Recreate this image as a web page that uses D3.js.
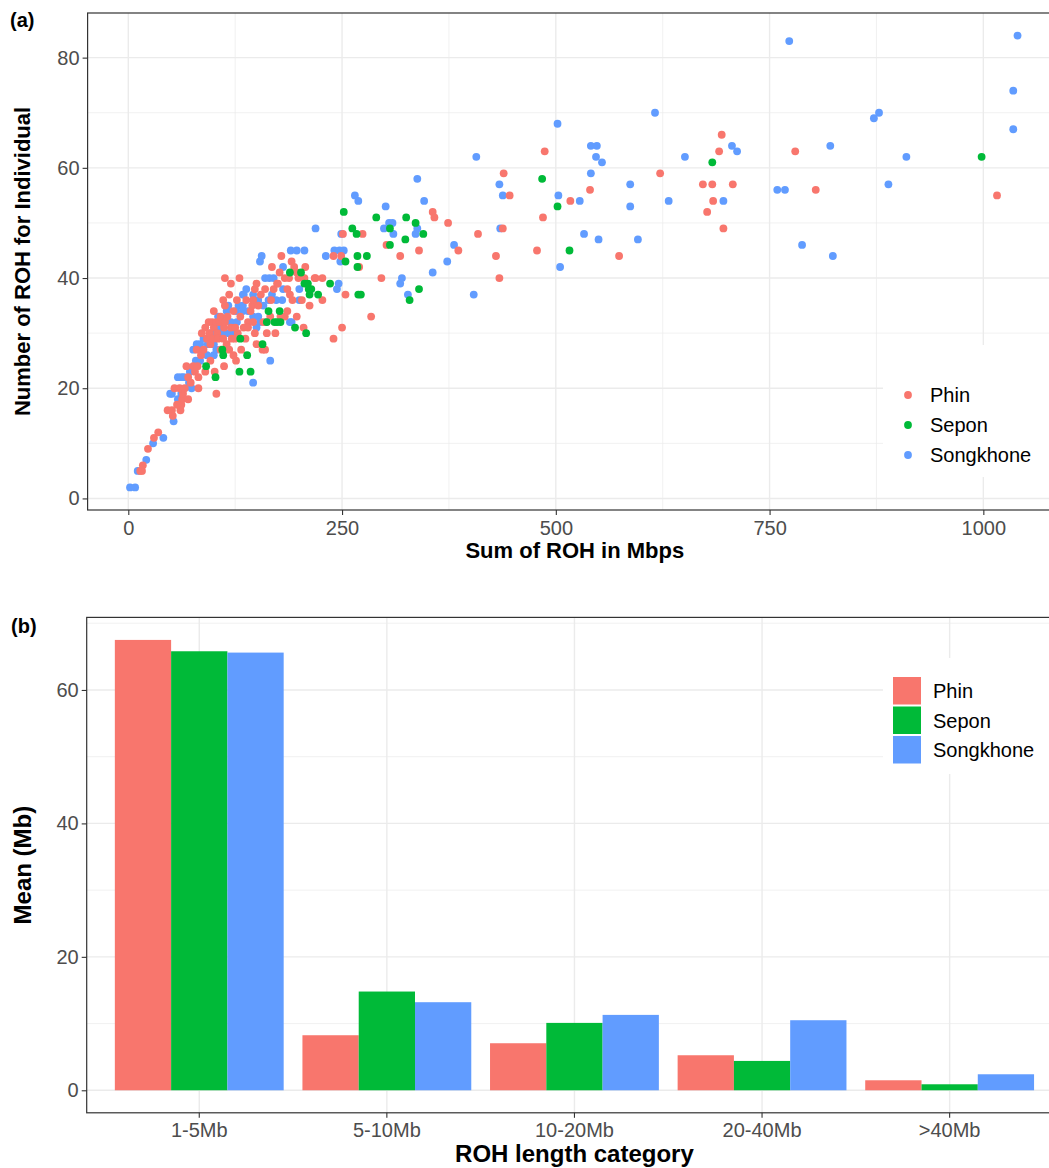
<!DOCTYPE html>
<html>
<head>
<meta charset="utf-8">
<script src="https://cdn.jsdelivr.net/npm/d3@7"></script>
<style>
  body { margin: 0; background: #fff; }
  svg { display: block; font-family: "Liberation Sans", Arial, Helvetica, sans-serif; }
</style>
</head>
<body>
<svg id="chart" width="1049" height="1168"></svg>
<script>

const groups = ['Phin', 'Sepon', 'Songkhone'];
const colors = ['#F8766D', '#00BA38', '#619CFF'];

// panel (a): [sum of ROH (Mbps), number of ROH]
const phinPoints = [
  [14,5],[16,5],[17,6],[23,9],[30,11],[35,12],[46,16],[51,16],[52,15],[60,17],[61,16],[62,17],[63,18],[64,19],
  [54,20],[60,20],[57,17],[66,20],[70,18],[68,24],[70,22],[73,21],[78,23],[76,24],[81,24],[82,22],[82,20],
  [80,27],[85,26],[88,27],[86,30],[90,31],[90,23],[92,29],[94,32],[95,30],[96,28],[96,25],[98,32],[99,29],
  [100,31],[100,34],[101,23],[103,32],[103,19],[104,30],[105,29],[107,32],[108,33],[108,27],[111,29],[111,36],
  [112,24],[112,31],[113,40],[113,35],[113,32],[115,28],[116,33],[118,37],[118,27],[120,39],[120,31],[121,29],
  [123,34],[123,26],[125,29],[125,31],[126,25],[127,36],[128,30],[130,40],[131,33],[132,27],[135,31],[137,29],
  [138,36],[140,32],[140,31],[143,34],[145,35],[146,32],[146,36],[148,30],[148,38],[150,39],[150,28],[152,35],
  [155,37],[157,27],[158,32],[160,38],[160,27],[162,30],[166,33],[167,36],[168,42],[170,38],[172,30],[174,39],
  [175,39],[177,41],[178,33],[179,44],[183,40],[183,33],[186,38],[186,34],[188,40],[189,37],[191,43],[192,36],
  [194,42],[197,41],[197,33],[199,40],[203,36],[205,31],[206,40],[207,42],[212,35],[218,40],[219,40],[227,40],
  [227,36],[240,44],[240,29],[249,44],[250,31],[251,48],[254,37],[270,42],[274,48],[284,33],[296,40],[302,46],
  [318,44],[340,45],[356,52],[358,51],[374,50],[386,45],[409,48],[430,44],[434,40],[438,49],[439,59],[446,55],
  [478,45],[485,51],[487,63],[517,54],[540,56],[574,44],[622,59],[672,57],[677,52],[683,57],[684,54],[691,63],
  [694,66],[696,49],[707,57],[780,63],[804,56],[1016,55]
];
const seponPoints = [
  [91,24],[102,22],[110,27],[111,26],[130,23],[131,29],[139,26],[143,23],[157,28],[162,32],[164,34],[171,32],
  [174,32],[177,34],[178,32],[189,41],[195,31],[202,41],[206,39],[208,30],[210,39],[211,38],[212,37],[214,38],
  [222,37],[236,39],[252,52],[254,43],[262,49],[267,48],[268,44],[268,42],[269,37],[272,37],[279,44],[290,51],
  [306,49],[306,46],[324,47],[325,51],[336,50],[345,48],[329,36],[340,38],[484,58],[502,53],[516,45],[683,61],
  [998,62]
];
const songkhonePoints = [
  [2,2],[8,2],[11,5],[21,7],[29,10],[41,11],[49,19],[51,19],[53,14],[58,18],[58,22],[62,22],[62,19],[65,22],
  [71,21],[72,23],[74,20],[76,27],[79,25],[80,28],[84,25],[84,28],[86,27],[88,29],[92,26],[93,28],[97,30],
  [100,28],[100,26],[103,27],[105,33],[107,31],[111,30],[115,34],[117,30],[117,35],[120,32],[123,30],[126,34],
  [127,32],[129,35],[134,34],[134,35],[134,37],[135,37],[138,38],[140,34],[146,33],[146,37],[146,21],[150,31],
  [152,33],[152,36],[154,32],[154,43],[156,44],[158,35],[160,40],[161,32],[164,36],[165,40],[166,25],[168,37],
  [170,40],[173,36],[180,36],[181,42],[181,38],[189,32],[190,45],[191,32],[197,45],[200,38],[200,36],[206,45],
  [219,49],[231,44],[241,45],[244,38],[246,39],[247,45],[248,43],[249,48],[252,45],[265,55],[269,54],[299,49],
  [301,53],[305,50],[309,50],[310,48],[318,39],[320,40],[327,37],[336,48],[338,49],[338,58],[346,54],[356,41],
  [373,43],[381,46],[404,37],[407,62],[434,57],[435,49],[438,55],[502,68],[503,55],[505,42],[528,54],[533,48],
  [541,59],[541,64],[547,62],[548,64],[550,47],[554,61],[587,57],[587,53],[596,47],[616,70],[632,54],[651,62],
  [696,54],[706,64],[712,63],[759,56],[768,56],[773,83],[788,46],[821,64],[824,44],[872,69],[878,70],[889,57],
  [910,62],[1035,74],[1035,67],[1040,84]
];

// panel (b): mean ROH length per category
const categories = ['1-5Mb', '5-10Mb', '10-20Mb', '20-40Mb', '>40Mb'];
const phinMeans = [67.5, 8.25, 7.05, 5.25, 1.5];
const seponMeans = [65.8, 14.8, 10.1, 4.4, 0.9];
const songkhoneMeans = [65.6, 13.2, 11.3, 10.5, 2.4];

const xTicksA = [0, 250, 500, 750, 1000];
const yTicksA = [0, 20, 40, 60, 80];
const yTicksB = [0, 20, 40, 60];

const svg = d3.select('#chart');
const grey = '#4D4D4D';

function styleAxis(g, size) {
  g.select('.domain').remove();
  g.selectAll('.tick line').attr('stroke', '#333').attr('stroke-width', 1.1);
  g.selectAll('.tick text').attr('fill', grey).style('font-size', size + 'px');
}

function hLines(g, vals, scale, x0, x1, w) {
  g.selectAll(null).data(vals).enter().append('line')
    .attr('x1', x0).attr('x2', x1)
    .attr('y1', d => scale(d)).attr('y2', d => scale(d))
    .attr('stroke', '#EBEBEB').attr('stroke-width', w);
}

function vLines(g, vals, pos, y0, y1, w) {
  g.selectAll(null).data(vals).enter().append('line')
    .attr('y1', y0).attr('y2', y1)
    .attr('x1', pos).attr('x2', pos)
    .attr('stroke', '#EBEBEB').attr('stroke-width', w);
}

// ---------- panel (a) ----------
const a = { left: 87.6, right: 1062, top: 13, bottom: 510 };
let xA = d3.scaleLinear().domain([-47.6, 1092]).range([a.left, a.right]);
let yA = d3.scaleLinear().domain([-2.1, 88.1]).range([a.bottom, a.top]);

let gA = svg.append('g');
hLines(gA, [10, 30, 50, 70], yA, a.left, a.right, 0.7);
vLines(gA, [125, 375, 625, 875], xA, a.top, a.bottom, 0.7);
hLines(gA, yTicksA, yA, a.left, a.right, 1.4);
vLines(gA, xTicksA, xA, a.top, a.bottom, 1.4);

let pointData = [];
[songkhonePoints, phinPoints, seponPoints].forEach((arr, i) => {
  let gi = [2, 0, 1][i];
  arr.forEach(p => pointData.push({ x: p[0], y: p[1], g: gi }));
});

gA.selectAll('.pt').data(pointData).enter().append('circle')
  .attr('class', 'pt')
  .attr('cx', d => xA(d.x))
  .attr('cy', d => yA(d.y))
  .attr('r', 3.9)
  .attr('fill', d => colors[d.g]);

gA.append('rect')
  .attr('x', a.left).attr('y', a.top)
  .attr('width', a.right - a.left).attr('height', a.bottom - a.top)
  .attr('fill', 'none').attr('stroke', '#333').attr('stroke-width', 1.2);

let axLA = gA.append('g').attr('transform', `translate(${a.left},0)`)
  .call(d3.axisLeft(yA).tickValues(yTicksA).tickSize(5).tickPadding(3));
styleAxis(axLA, 20);
let axBA = gA.append('g').attr('transform', `translate(0,${a.bottom})`)
  .call(d3.axisBottom(xA).tickValues(xTicksA).tickFormat(d3.format('d')).tickSize(5).tickPadding(6));
styleAxis(axBA, 20);

gA.append('text')
  .attr('x', (a.left + a.right) / 2).attr('y', 558)
  .attr('text-anchor', 'middle')
  .style('font-size', '22px').style('font-weight', 'bold')
  .text('Sum of ROH in Mbps');
gA.append('text')
  .attr('transform', `translate(22,${(a.top + a.bottom) / 2}) rotate(-90)`)
  .attr('text-anchor', 'middle').attr('dy', '0.35em')
  .style('font-size', '22px').style('font-weight', 'bold')
  .text('Number of ROH for Individual');
gA.append('text')
  .attr('x', 10).attr('y', 27)
  .style('font-size', '20px').style('font-weight', 'bold')
  .text('(a)');

// legend (a)
let legA = gA.append('g');
legA.append('rect').attr('x', 883).attr('y', 345).attr('width', 170).attr('height', 132).attr('fill', '#fff');
groups.forEach((name, i) => {
  let y = 395 + i * 30;
  legA.append('circle').attr('cx', 908).attr('cy', y).attr('r', 3.9).attr('fill', colors[i]);
  legA.append('text').attr('x', 930).attr('y', y).attr('dy', '0.35em')
    .style('font-size', '20px').text(name);
});

// ---------- panel (b) ----------
const b = { left: 86.7, right: 1062.2, top: 617.4, bottom: 1112.8 };
let xB = d3.scaleBand().domain(categories).range([b.left, b.right]).paddingInner(0.1).paddingOuter(0.15);
let xSub = d3.scaleBand().domain(groups).range([0, xB.bandwidth()]);
let yB = d3.scaleLinear().domain([-3.375, 70.875]).range([b.bottom, b.top]);

let gB = svg.append('g');
hLines(gB, [10, 30, 50, 70], yB, b.left, b.right, 0.7);
hLines(gB, yTicksB, yB, b.left, b.right, 1.4);
vLines(gB, categories, d => xB(d) + xB.bandwidth() / 2, b.top, b.bottom, 1.4);

let means = [phinMeans, seponMeans, songkhoneMeans];
let barData = [];
categories.forEach((c, ci) => {
  groups.forEach((gname, gi) => barData.push({ cat: c, grp: gname, gi: gi, val: means[gi][ci] }));
});

gB.selectAll('.bar').data(barData).enter().append('rect')
  .attr('class', 'bar')
  .attr('x', d => xB(d.cat) + xSub(d.grp))
  .attr('width', xSub.bandwidth())
  .attr('y', d => yB(d.val))
  .attr('height', d => yB(0) - yB(d.val))
  .attr('fill', d => colors[d.gi]);

gB.append('rect')
  .attr('x', b.left).attr('y', b.top)
  .attr('width', b.right - b.left).attr('height', b.bottom - b.top)
  .attr('fill', 'none').attr('stroke', '#333').attr('stroke-width', 1.2);

let axLB = gB.append('g').attr('transform', `translate(${b.left},0)`)
  .call(d3.axisLeft(yB).tickValues(yTicksB).tickSize(5).tickPadding(3));
styleAxis(axLB, 20);
let axBB = gB.append('g').attr('transform', `translate(0,${b.bottom})`)
  .call(d3.axisBottom(xB).tickSize(5).tickPadding(5));
styleAxis(axBB, 20);

gB.append('text')
  .attr('x', (b.left + b.right) / 2).attr('y', 1162)
  .attr('text-anchor', 'middle')
  .style('font-size', '24px').style('font-weight', 'bold')
  .text('ROH length category');
gB.append('text')
  .attr('transform', `translate(22.6,${(b.top + b.bottom) / 2}) rotate(-90)`)
  .attr('text-anchor', 'middle').attr('dy', '0.35em')
  .style('font-size', '24px').style('font-weight', 'bold')
  .text('Mean (Mb)');
gB.append('text')
  .attr('x', 11).attr('y', 633)
  .style('font-size', '20px').style('font-weight', 'bold')
  .text('(b)');

// legend (b)
let legB = gB.append('g');
legB.append('rect').attr('x', 883).attr('y', 658).attr('width', 170).attr('height', 116).attr('fill', '#fff');
groups.forEach((name, i) => {
  let y = 677 + i * 29.5;
  legB.append('rect').attr('x', 893).attr('y', y).attr('width', 28).attr('height', 27.5).attr('fill', colors[i]);
  legB.append('text').attr('x', 933).attr('y', y + 14).attr('dy', '0.35em')
    .style('font-size', '20px').text(name);
});

</script>
</body>
</html>
